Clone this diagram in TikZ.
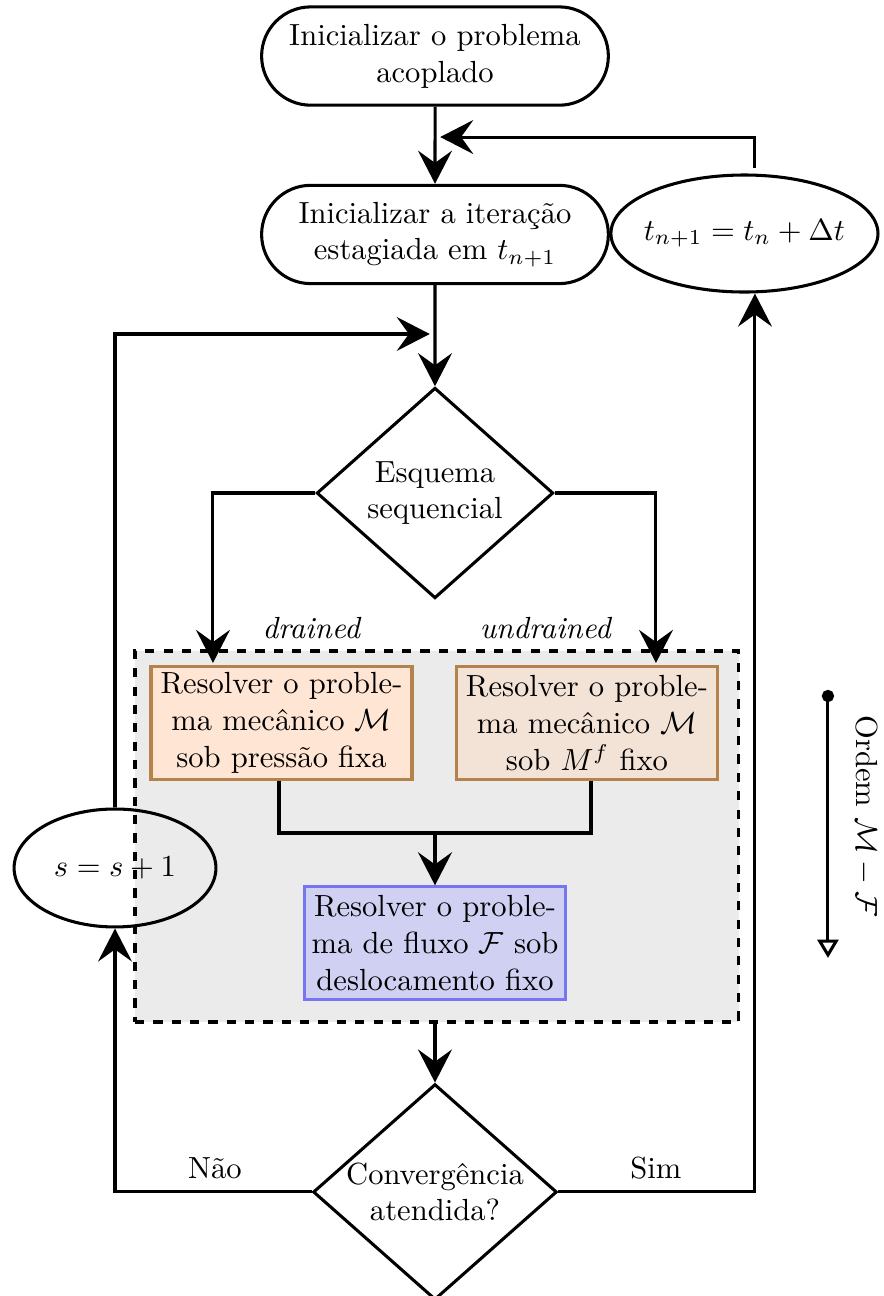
\documentclass[tikz,border=0pt]{standalone}
\usepackage{amsmath}
\usepackage{tikz}
\usetikzlibrary{shapes,arrows.meta}

\definecolor{bordaMarrom}{RGB}{182,130,76}
\definecolor{fundoDrained}{RGB}{255,229,212}
\definecolor{fundoUndrained}{RGB}{243,226,214}
\definecolor{bordaAzul}{RGB}{118,118,240}
\definecolor{fundoAzul}{RGB}{208,208,242}
\definecolor{fundoCinza}{RGB}{235,235,235}

\tikzset{
	fluxo/.style={line width=1pt,-{Stealth[length=3.8mm,width=3.9mm,inset=1.4mm]}},
	linha/.style={line width=1pt},
	terminal/.style={draw,line width=1pt,shape=rounded rectangle,minimum width=4.22cm,minimum height=1.13cm,align=center},
	decisao/.style={draw,line width=1pt,shape=diamond,aspect=1.13,minimum width=2.72cm,minimum height=2.42cm,inner sep=0pt,align=center},
	contador/.style={draw,line width=1pt,shape=ellipse,inner sep=0pt,align=center},
	etapa/.style={draw,line width=1pt,shape=rectangle,minimum width=3.0cm,minimum height=1.29cm,inner sep=1pt,align=center}
}

\begin{document}
\begin{tikzpicture}

		\useasboundingbox (0,0) rectangle (10.161,-14.897);

		\node (InicializarProblema) at (5.0,-0.644) [terminal]{Inicializar o problema\\acoplado};
		\node (InicializarIteracao) at (5.0,-2.695) [terminal]{Inicializar a iteração\\estagiada em $t_{n+1}$};
		\node (AvancarTempo) at (8.557,-2.684) [contador,inner xsep=-0.75mm,minimum width=3.07cm,minimum height=1.345cm]{$t_{n+1}=t_n+\Delta t$};

		\node (EsquemaSequencial) at (5.0,-5.667) [decisao]{Esquema\\sequencial};

		% bloco do esquema sequencial
		\node (BlocoSequencial) at (5.023,-9.615) [draw,dashed,line width=1pt,fill=fundoCinza,minimum width=6.942cm,minimum height=4.264cm]{};

		\node (ResolverDrained) at (3.236,-8.310) [etapa,draw=bordaMarrom,fill=fundoDrained]{Resolver o proble-\\ma mecânico $\mathcal{M}$\\sob pressão fixa};
		\node (ResolverUndrained) at (6.747,-8.310) [etapa,draw=bordaMarrom,fill=fundoUndrained]{Resolver o proble-\\ma mecânico $\mathcal{M}$\\sob $M^f$ fixo};
		\node (ResolverFluxo) at (5.0,-10.839) [etapa,draw=bordaAzul,fill=fundoAzul]{Resolver o proble-\\ma de fluxo $\mathcal{F}$ sob\\deslocamento fixo};

		\node (AvancarIteracao) at (1.322,-9.977) [contador,minimum width=2.32cm,minimum height=1.356cm]{$s=s+1$};

		\node (Convergencia) at (5.0,-13.701) [decisao]{Convergência\\atendida?};

		\node (Drained) at (3.586,-7.218) {\textit{drained}};
		\node (Undrained) at (6.276,-7.218) {\textit{undrained}};
		\node (Nao) at (2.471,-13.425) {Não};
		\node (Sim) at (7.540,-13.425) {Sim};

		\coordinate (RetornoTempo) at (5.06,-1.575);
		\coordinate (SaidaTempo) at (8.678,-1.93);
		\coordinate (RetornoIteracao) at (4.94,-3.839);
		\coordinate (EntradaDrained) at (2.448,-7.62);
		\coordinate (EntradaUndrained) at (7.540,-7.62);
		\coordinate (Juncao) at (5.0,-9.575);
		\coordinate (CantoSim) at (8.678,-13.701);
		\coordinate (OrdemInicio) at (9.517,-7.93);
		\coordinate (OrdemFim) at (9.517,-11.011);

		\draw [fluxo] (InicializarProblema) -- (InicializarIteracao);
		\draw [fluxo] (SaidaTempo) |- (RetornoTempo);
		\draw [fluxo] (InicializarIteracao) -- (EsquemaSequencial);
		\draw [fluxo] (AvancarIteracao.north) |- (RetornoIteracao);

		\draw [fluxo] (EsquemaSequencial.west) -| (EntradaDrained);
		\draw [fluxo] (EsquemaSequencial.east) -| (EntradaUndrained);

		\draw [linha] (ResolverDrained.south -| 3.207,0) |- (Juncao) -| (ResolverUndrained.south -| 6.793,0);
		\draw [fluxo] (Juncao) -- (ResolverFluxo);

		\draw [fluxo] (BlocoSequencial.south -| Convergencia) -- (Convergencia);

		\draw [fluxo] (Convergencia.west) -| (AvancarIteracao.south);
		\draw [fluxo] (Convergencia.east) -- (CantoSim) -- (CantoSim |- AvancarTempo.south);

		% ordem M - F
		\draw [line width=1pt,{Circle[length=1.4mm]}-{Triangle[open,length=2.1mm,width=2.4mm]}] (OrdemInicio) -- (OrdemFim);
		\node (OrdemTexto) at (9.95,-9.38) [rotate=-90]{Ordem $\mathcal{M}-\mathcal{F}$};

	\end{tikzpicture}
\end{document}
